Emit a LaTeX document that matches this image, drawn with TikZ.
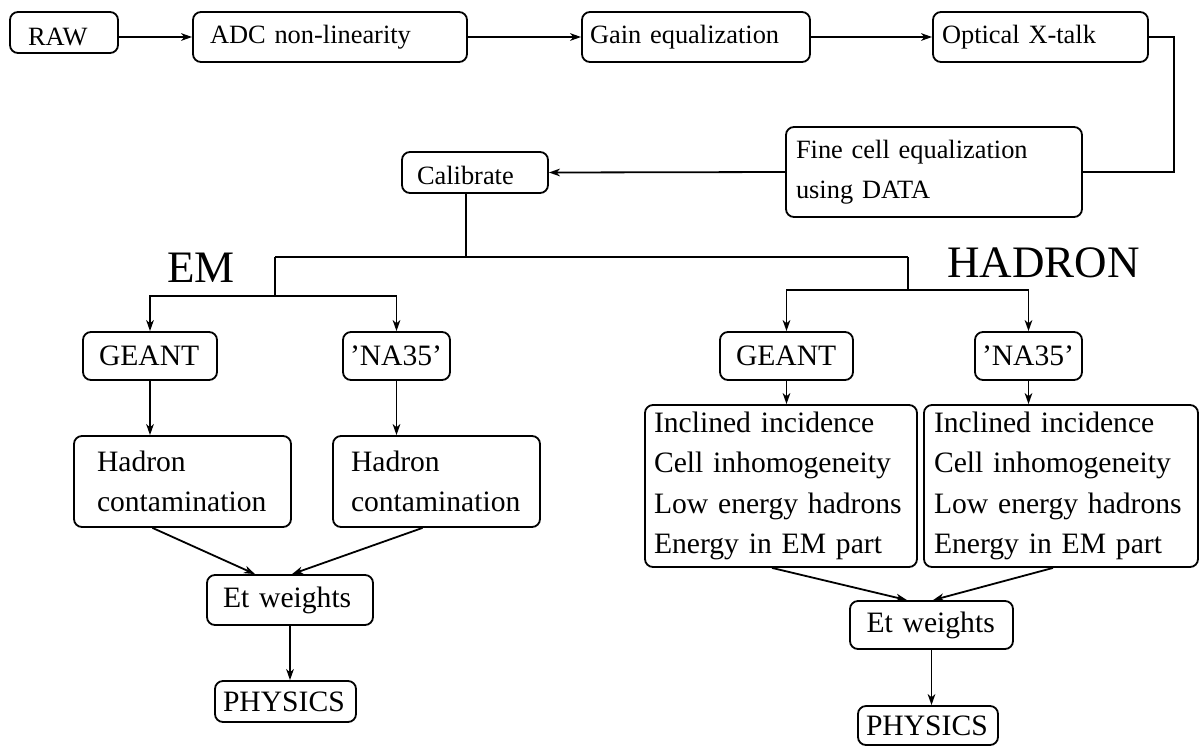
\documentclass[tikz,border=0pt]{standalone}
\usepackage{fontspec}
\setmainfont{Liberation Serif}
\usetikzlibrary{arrows.meta}

\tikzset{
  box/.style={draw, rounded corners=4pt, line width=0.9pt, align=left, inner ysep=0pt},
  small/.style={font=\fontsize{13.2}{20}\selectfont},
  big/.style={font=\fontsize{14.8}{20.3}\selectfont},
  title/.style={anchor=base west, inner sep=0pt, font=\fontsize{22.5}{27}\selectfont},
  wire/.style={line width=0.9pt},
  arr/.style={line width=0.9pt, -{Stealth[length=5.5pt,width=3.8pt,inset=1.6pt]}},
}

\begin{document}
\begin{tikzpicture}[x=0.5pt, y=-0.5pt]
            \useasboundingbox (0,0) rectangle (1200,746);

            % Define chain of corrections
            \node[box, small, text width=36pt, inner xsep=9pt, text height=16.5pt, text depth=4pt] (raw) at (64,32.5) {RAW};
            \node[box, small, text width=120pt, inner xsep=8.5pt, minimum height=25pt] (adc) at (330,37) {ADC non-linearity};
            \node[box, small, text width=106pt, inner xsep=4pt, minimum height=25pt] (gain) at (696,37) {Gain equalization};
            \node[box, small, text width=98.5pt, inner xsep=4.5pt, minimum height=25pt] (xtalk) at (1040.5,37) {Optical X-talk};
            \node[box, small, text width=138pt, inner xsep=5pt, minimum height=45pt] (fine) at (934,172) {Fine cell equalization\\using DATA};
            \node[box, small, text width=58pt, inner xsep=7.5pt, text height=16pt, text depth=4.5pt] (cal) at (475,172.5) {Calibrate};

            % Define titles
            \node[title] (emlabel) at (167,282) {EM};
            \node[title] (hadlabel) at (947,277) {HADRON};

            % Define EM branch
            \node[box, big, text width=51pt, inner xsep=8pt, minimum height=24pt] (emgeant) at (150,356) {GEANT};
            \node[box, big, text width=46.5pt, inner xsep=3.5pt, minimum height=24pt] (emna) at (396.5,356) {'NA35'};
            \node[box, big, text width=85.5pt, inner xsep=11.5pt, minimum height=45.5pt] (emhad) at (182.5,481.5) {Hadron\\contamination};
            \node[box, big, text width=85.5pt, inner xsep=9pt, minimum height=45.5pt] (emhadna) at (436.5,481.5) {Hadron\\contamination};
            \node[box, big, text width=67pt, inner xsep=8pt, minimum height=25pt] (emet) at (290,600) {Et weights};
            \node[box, big, text width=62.5pt, inner xsep=4pt, minimum height=20.5pt] (emphys) at (285.5,701.5) {PHYSICS};

            % Define HADRON branch
            \node[box, big, text width=50.5pt, inner xsep=8pt, minimum height=24pt] (hadgeant) at (786.5,356) {GEANT};
            \node[box, big, text width=46.5pt, inner xsep=3.5pt, minimum height=24pt] (hadna) at (1028.5,356) {'NA35'};
            \node[box, big, text width=127pt, inner xsep=4.5pt, minimum height=81pt] (haddet) at (781,486) {Inclined incidence\\Cell inhomogeneity\\Low energy hadrons\\Energy in EM part};
            \node[box, big, text width=127pt, inner xsep=5pt, minimum height=81pt] (haddetna) at (1061,486) {Inclined incidence\\Cell inhomogeneity\\Low energy hadrons\\Energy in EM part};
            \node[box, big, text width=65pt, inner xsep=8.25pt, minimum height=24pt] (hadet) at (931.5,625) {Et weights};
            \node[box, big, text width=62pt, inner xsep=4pt, minimum height=19.5pt] (hadphys) at (928,725.5) {PHYSICS};

            % Define fork points
            \coordinate (split) at (466,257);
            \coordinate (emtop) at (275,257);
            \coordinate (hadtop) at (908,257);
            \coordinate (emfork) at (275,296);
            \coordinate (hadfork) at (908,290);

            % Draw chain
            \draw[arr] (raw.east |- adc.west) -- (adc.west);
            \draw[arr] (adc) -- (gain);
            \draw[arr] (gain) -- (xtalk);
            \draw[wire] (xtalk.east) -- ++(25,0) |- (fine.east);
            \draw[arr] (fine.west) -- (cal.east);

            % Draw forks
            \draw[wire] (cal.south -| split) -- (split);
            \draw[wire] (emtop) -- (hadtop);
            \draw[wire] (emtop) -- (emfork);
            \draw[wire] (hadtop) -- (hadfork);
            \draw[arr] (emfork) -| (emgeant.north);
            \draw[arr] (emfork) -| (emna.north);
            \draw[arr] (hadfork) -| (hadgeant.north);
            \draw[arr] (hadfork) -| (hadna.north);

            % Draw EM edges
            \draw[arr] (emgeant.south) -- (emgeant.south |- emhad.north);
            \draw[arr] (emna.south) -- (emna.south |- emhadna.north);
            \draw[arr] ([xshift=-15pt]emhad.south) -- ([xshift=-17.5pt]emet.north);
            \draw[arr] ([xshift=-7pt]emhadna.south) -- ([xshift=1pt]emet.north);
            \draw[arr] (emet.south) -- (emet.south |- emphys.north);

            % Draw HADRON edges
            \draw[arr] (hadgeant.south) -- (hadgeant.south |- haddet.north);
            \draw[arr] (hadna.south) -- (hadna.south |- haddetna.north);
            \draw[arr] ([xshift=-4.5pt]haddet.south) -- ([xshift=-12.25pt]hadet.north);
            \draw[arr] ([xshift=-4pt]haddetna.south) -- ([xshift=0.75pt]hadet.north);
            \draw[arr] (hadet.south) -- (hadet.south |- hadphys.north);
        \end{tikzpicture}
\end{document}
